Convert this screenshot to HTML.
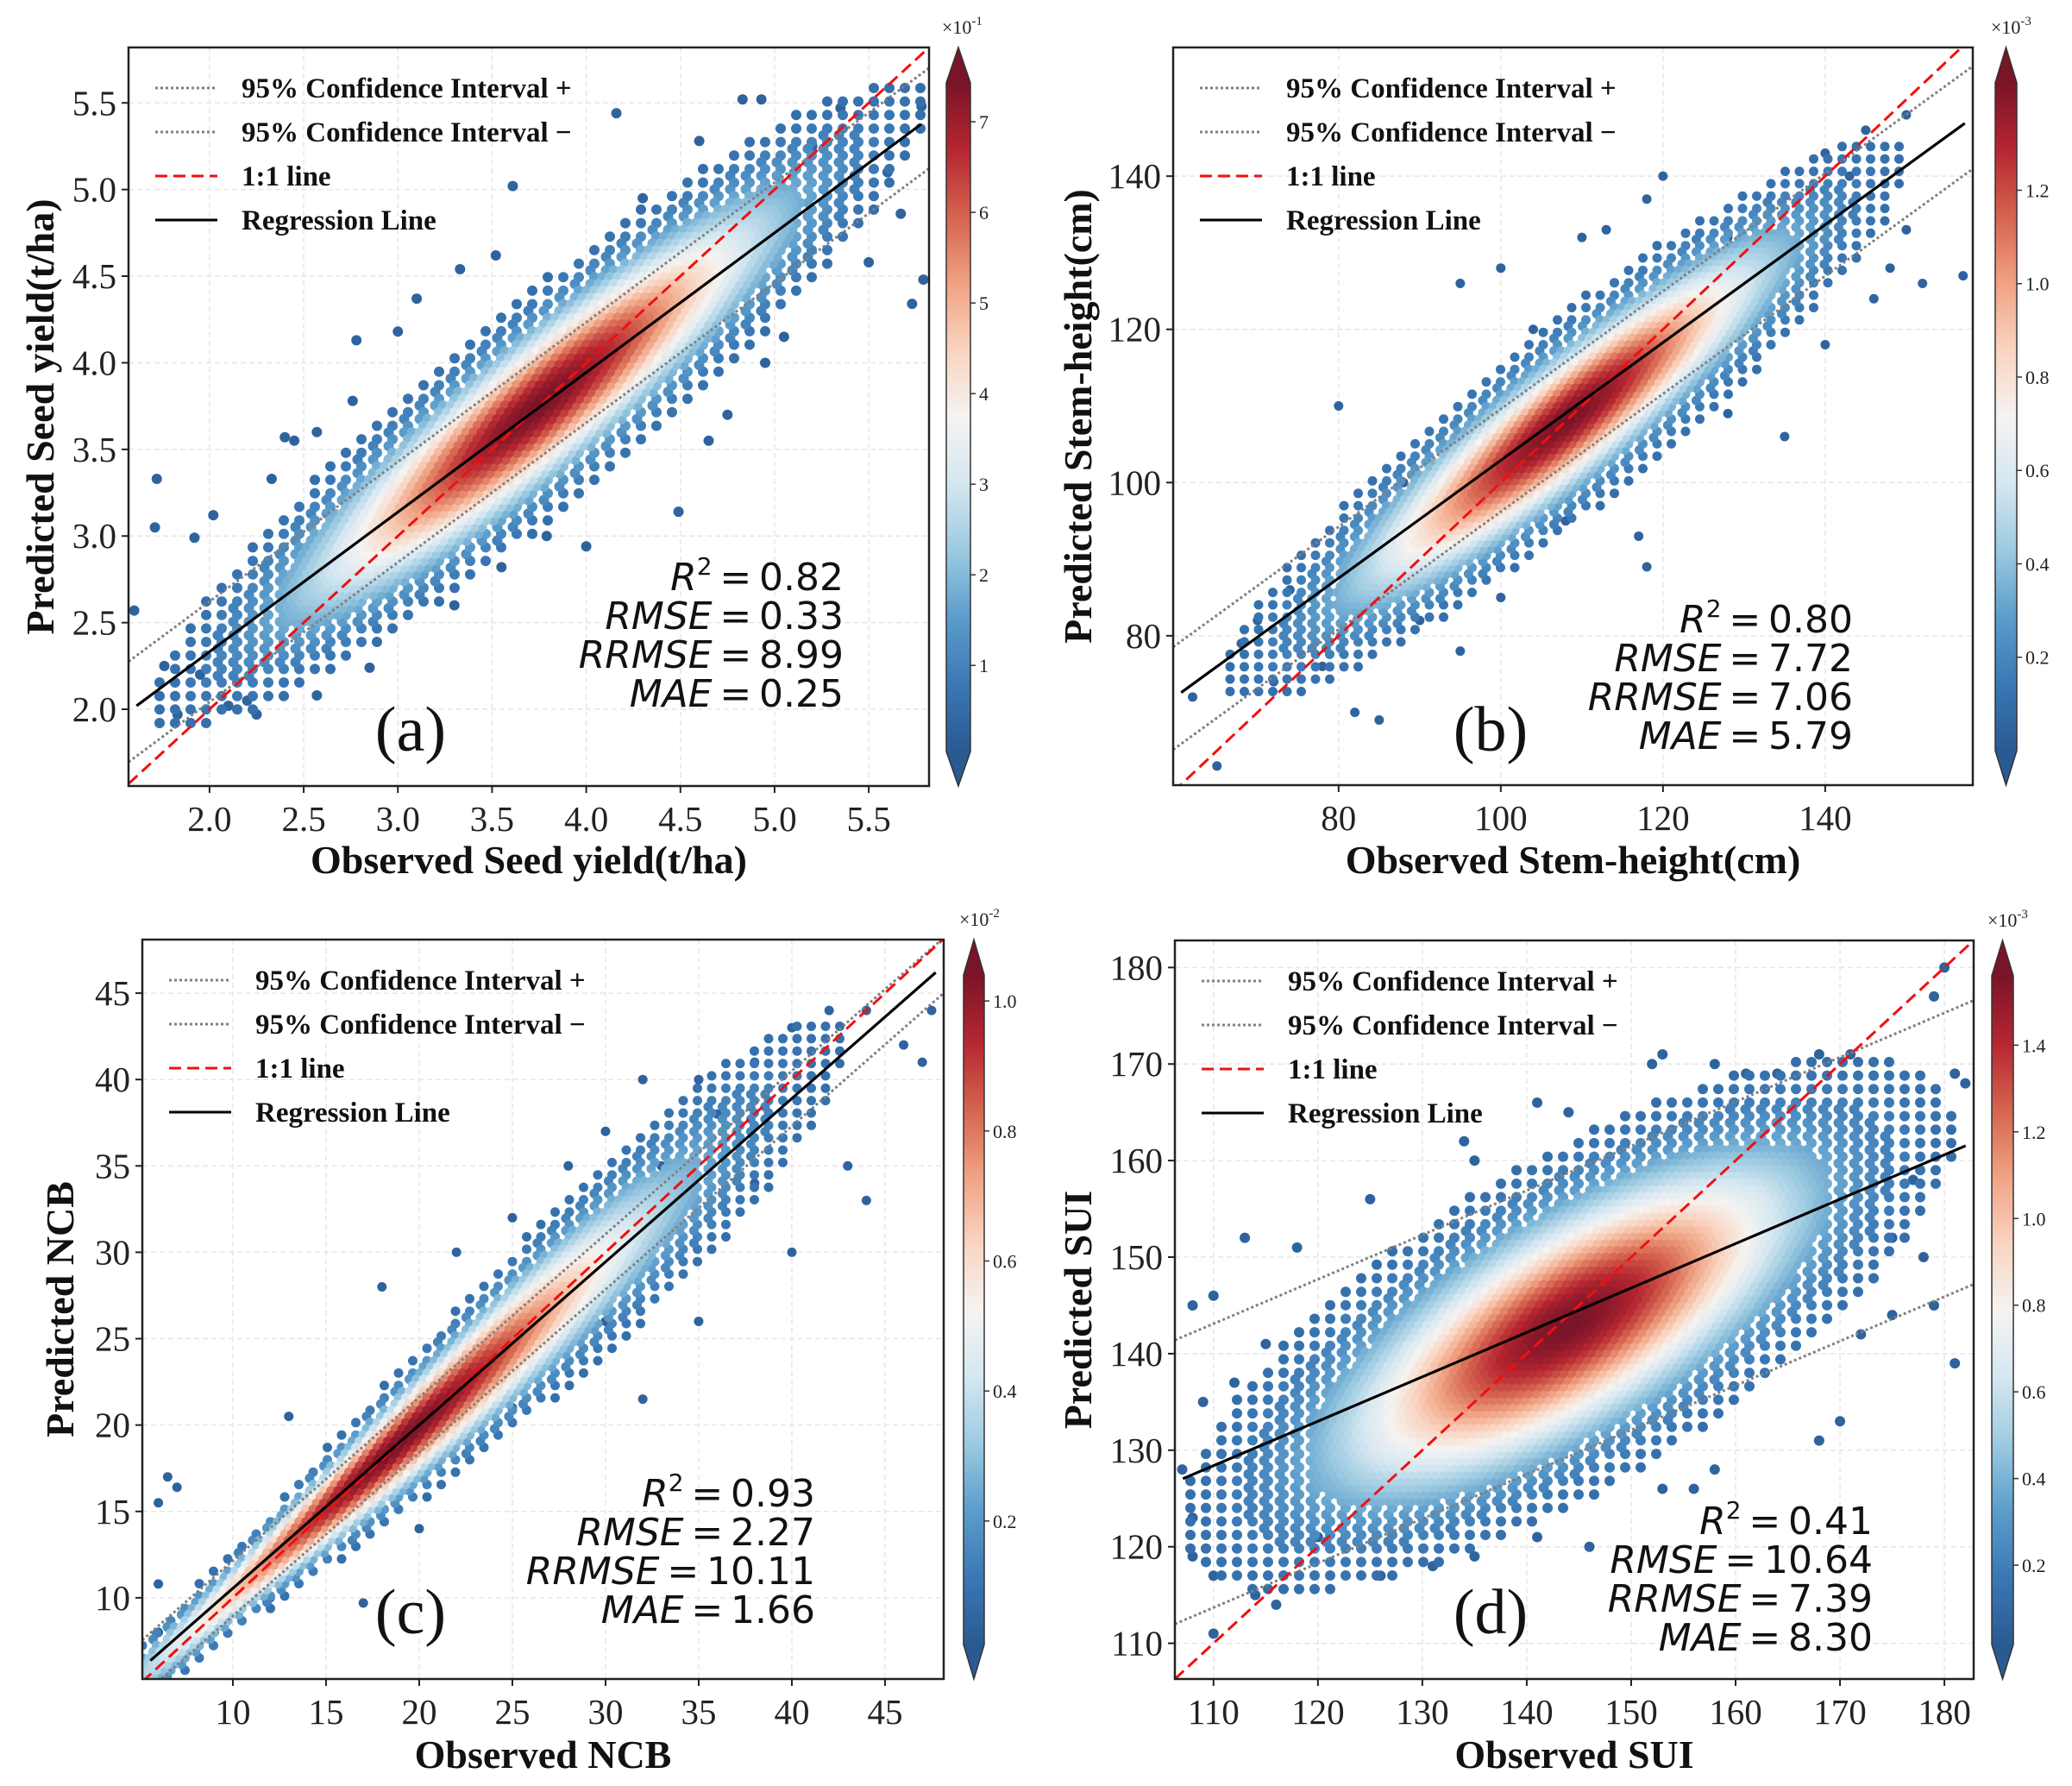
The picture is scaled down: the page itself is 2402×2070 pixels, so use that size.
<!DOCTYPE html>
<html><head><meta charset="utf-8"><style>
html,body{margin:0;padding:0;background:#fff}
svg{display:block}
</style></head><body>
<svg id="fig" width="2402" height="2070" viewBox="0 0 2402 2070" xmlns="http://www.w3.org/2000/svg"></svg>
<script>
// ---------- data ----------
const panelIds = ['a','b','c','d'];
const xLabels = ['Observed Seed yield(t/ha)','Observed Stem-height(cm)','Observed NCB','Observed SUI'];
const yLabels = ['Predicted Seed yield(t/ha)','Predicted Stem-height(cm)','Predicted NCB','Predicted SUI'];
const xTicksA = [2.0,2.5,3.0,3.5,4.0,4.5,5.0,5.5];
const yTicksA = [2.0,2.5,3.0,3.5,4.0,4.5,5.0,5.5];
const xTicksB = [80,100,120,140];
const yTicksB = [80,100,120,140];
const xTicksC = [10,15,20,25,30,35,40,45];
const yTicksC = [10,15,20,25,30,35,40,45];
const xTicksD = [110,120,130,140,150,160,170,180];
const yTicksD = [110,120,130,140,150,160,170,180];
const statR2 = ['0.82','0.80','0.93','0.41'];
const statRMSE = ['0.33','7.72','2.27','10.64'];
const statRRMSE = ['8.99','7.06','10.11','7.39'];
const statMAE = ['0.25','5.79','1.66','8.30'];
// regression [slope, intercept], CI half-width
const regA = [0.806, 0.72], ciA = 0.29;
const regB = [0.769, 26.0], ciB = 6.7;
const regC = [0.945, 1.1], ciC = 1.6;
const regD = [0.46, 77.8], ciD = 14.7;
// density model: [meanX, meanY, axisSlope, sdX, sdResid, sdResidGrowth]
const densA = [3.75, 3.75, 0.84, 0.78, 0.27, 0];
const densB = [108, 108, 0.8, 16, 5.5, 0];
const densC = [19, 19, 0.97, 9, 1.0, 0.07];
const densD = [144, 143, 0.55, 14, 7.2, 0];
// colorbar tick values and exponent
const cbTicksA = [1,2,3,4,5,6,7], cbRangeA = [0.05,7.43], cbExpA = '-1';
const cbTicksB = [0.2,0.4,0.6,0.8,1.0,1.2], cbRangeB = [0.0,1.43], cbExpB = '-3';
const cbTicksC = [0.2,0.4,0.6,0.8,1.0], cbRangeC = [0.01,1.04], cbExpC = '-2';
const cbTicksD = [0.2,0.4,0.6,0.8,1.0,1.2,1.4], cbRangeD = [0.017,1.56], cbExpD = '-3';
// outlier points [x,y]
const outA = [[1.6,2.57],[1.72,3.33],[1.71,3.05],[1.76,2.25],[1.83,1.97],[1.92,2.99],[2.02,3.12],[2.33,3.33],[2.4,3.57],[2.45,3.55],[2.57,3.6],[2.78,4.13],[2.76,3.78],[3.0,4.18],[3.1,4.37],[3.33,4.54],[3.52,4.62],[3.61,5.02],[4.16,5.44],[4.83,5.52],[4.93,5.52],[5.35,5.47],[5.73,4.34],[5.79,4.48],[5.67,4.86],[4.49,3.14],[4.0,2.94],[3.79,3.0],[3.55,2.82],[2.57,2.08],[2.25,1.97],[2.85,2.24],[3.3,2.6],[4.65,3.55],[4.95,4.0],[5.05,4.15],[5.5,4.58],[5.78,5.48],[4.3,4.95],[4.6,5.28],[2.2,2.05],[2.1,2.02],[1.95,2.2],[5.2,5.25],[5.6,5.1],[4.75,3.7]];
const outB = [[62,72],[65,63],[68,79],[70,82],[74,86],[80,110],[82,70],[85,69],[88,100],[95,126],[100,128],[104,120],[110,132],[113,133],[118,137],[120,140],[128,132],[135,128],[140,143],[145,146],[150,148],[157,127],[148,128],[146,124],[140,118],[135,106],[128,109],[118,89],[117,93],[108,95],[100,85],[95,78],[90,82],[72,74],[78,76],[143,140],[150,133],[152,126]];
const outC = [[6,15.5],[6.5,17],[7,16.4],[13,20.5],[18,28],[22,30],[25,32],[28,35],[30,37],[32,40],[35,40],[38,41],[40,43],[42,44],[44,44],[46,42],[47.5,44],[47,41],[44,33],[43,35],[40,30],[35,26],[32,21.5],[30,26],[25,21],[20,14],[17,9.7],[12,10],[9,8],[6,10.8],[6,8],[36,38],[33,35],[38,34]];
const outD = [[108,145],[110,146],[113,152],[118,151],[125,156],[134,162],[135,160],[141,166],[144,165],[152,170],[153,171],[158,170],[161,169],[164,169],[168,171],[171,171],[179,177],[180,180],[181,169],[182,168],[181,139],[179,145],[175,144],[172,142],[170,133],[168,131],[158,128],[156,126],[153,126],[146,120],[141,121],[135,119],[131,118],[126,117],[120,121],[116,114],[114,115],[110,111],[108,119],[110,117],[108,123],[107,128],[109,135],[112,137],[115,141],[177,158],[175,152],[178,150]];

// layout (pixel geometry, not data)
const layouts = [
 {L:149,R:1077,T:55,B:911,xr:[1.57,5.82],yr:[1.557,5.82],cbx:1097,cbw:28,xt:xTicksA,yt:yTicksA,dec:1,reg:regA,ci:ciA,dens:densA,out:outA,cbt:cbTicksA,cbr:cbRangeA,cbe:cbExpA,cbdec:0,sx:978,sy:668,lab:[476,846],ylx:46,xly:996,sr:6},
 {L:1360,R:2287,T:55,B:910,xr:[59.6,158.2],yr:[60.5,156.8],cbx:2313,cbw:25,xt:xTicksB,yt:yTicksB,dec:0,reg:regB,ci:ciB,dens:densB,out:outB,cbt:cbTicksB,cbr:cbRangeB,cbe:cbExpB,cbdec:1,sx:2148,sy:717,lab:[1728,846],ylx:1249,xly:996,sr:5.5},
 {L:165,R:1094,T:1089,B:1946,xr:[5.14,48.15],yr:[5.3,48.1],cbx:1117,cbw:24,xt:xTicksC,yt:yTicksC,dec:0,reg:regC,ci:ciC,dens:densC,out:outC,cbt:cbTicksC,cbr:cbRangeC,cbe:cbExpC,cbdec:1,sx:945,sy:1730,lab:[476,1869],ylx:69,xly:2033,sr:5.5},
 {L:1362,R:2288,T:1090,B:1946,xr:[106.3,182.8],yr:[106.3,182.8],cbx:2309,cbw:25,xt:xTicksD,yt:yTicksD,dec:0,reg:regD,ci:ciD,dens:densD,out:outD,cbt:cbTicksD,cbr:cbRangeD,cbe:cbExpD,cbdec:1,sx:2171,sy:1762,lab:[1728,1869],ylx:1249,xly:2033,sr:6}
];

const NS='http://www.w3.org/2000/svg';
const svg=document.getElementById('fig');
function mk(tag,attrs,parent){const e=document.createElementNS(NS,tag);for(const k in attrs)e.setAttribute(k,attrs[k]);(parent||svg).appendChild(e);return e;}
const stops=['#2a5a92','#3a78b5','#5b9dcb','#9ccae1','#d5e7f1','#f5f3f1','#f9d4c0','#f0a283','#d5634f','#b52631','#7a1427'];
function hex(c){return [parseInt(c.substr(1,2),16),parseInt(c.substr(3,2),16),parseInt(c.substr(5,2),16)];}
function cmap(t){t=Math.max(0,Math.min(1,t));const p=t*(stops.length-1);const i=Math.min(stops.length-2,Math.floor(p));const f=p-i;const a=hex(stops[i]),b=hex(stops[i+1]);return 'rgb('+a.map((v,k)=>Math.round(v+(b[k]-v)*f)).join(',')+')';}
const serif='"Liberation Serif", serif';

const defs=mk('defs',{});
const grad=mk('linearGradient',{id:'cbg',x1:0,y1:1,x2:0,y2:0},defs);
stops.forEach((c,i)=>mk('stop',{offset:(i/(stops.length-1)),'stop-color':c},grad));

layouts.forEach((P,pi)=>{
 const g=mk('g',{});
 
 
 const X=v=>P.L+(v-P.xr[0])/(P.xr[1]-P.xr[0])*(P.R-P.L);
 const Y=v=>P.B-(v-P.yr[0])/(P.yr[1]-P.yr[0])*(P.B-P.T);
 const cid='clip'+pi;
 const cp=mk('clipPath',{id:cid},defs);mk('rect',{x:P.L,y:P.T,width:P.R-P.L,height:P.B-P.T},cp);
 P.xt.forEach(v=>{const l=mk('line',{x1:X(v),x2:X(v),y1:P.T,y2:P.B,stroke:'#e6e6e6','stroke-width':1.5,'stroke-dasharray':'6,4'},g);});
 P.yt.forEach(v=>{const l=mk('line',{y1:Y(v),y2:Y(v),x1:P.L,x2:P.R,stroke:'#e6e6e6','stroke-width':1.5,'stroke-dasharray':'6,4'},g);});
 const sg=mk('g',{'clip-path':'url(#'+cid+')'},g);
 
 
 const [mx,my,ds,sdx,sdr,grow]=P.dens;const [b,a]=P.reg;
 P.out.forEach(p=>{const c=mk('circle',{cx:X(p[0]),cy:Y(p[1]),r:P.sr,fill:cmap(0.03)},sg);});
 const pts=[];
 const step=P.sr*1.5;
 let row=0;
 for(let py=P.T;py<=P.B;py+=step*0.87,row++){
  let col=0;
  for(let px=P.L+(row%2?step/2:0);px<=P.R;px+=step,col++){
   const dx=P.xr[0]+(px-P.L)/(P.R-P.L)*(P.xr[1]-P.xr[0]);
   const dy=P.yr[0]+(P.B-py)/(P.B-P.T)*(P.yr[1]-P.yr[0]);
   const sr=sdr*(1+grow*Math.max(0,dx-10));
   const zx=(dx-mx)/sdx, zr=(dy-(my+ds*(dx-mx)))/sr;
   const z2=zx*zx+zr*zr;
   if(z2>7||Math.abs(zr)>2.7) continue;
   if(z2>3.2 && ((row+col)%2===1)) continue;
   if(z2>5 && (row%2===1)) continue;
   pts.push([px,py,Math.exp(-z2/2)]);
  }
 }
 pts.sort((p,q)=>p[2]-q[2]);
 pts.forEach(p=>{const c=mk('circle',{cx:p[0].toFixed(1),cy:p[1].toFixed(1),r:P.sr,fill:cmap(0.04+p[2]*0.96)},sg);});
 const x0=P.xr[0],x1=P.xr[1];
 const lg=mk('g',{'clip-path':'url(#'+cid+')'},g);
 const ciu=mk('line',{x1:X(x0),y1:Y(a+b*x0+P.ci),x2:X(x1),y2:Y(a+b*x1+P.ci),stroke:'#808080','stroke-width':3,'stroke-dasharray':'3,3'},lg);
 
 const cil=mk('line',{x1:X(x0),y1:Y(a+b*x0-P.ci),x2:X(x1),y2:Y(a+b*x1-P.ci),stroke:'#808080','stroke-width':3,'stroke-dasharray':'3,3'},lg);
 
 const one=mk('line',{x1:X(x0),y1:Y(x0),x2:X(x1),y2:Y(x1),stroke:'#f01010','stroke-width':3,'stroke-dasharray':'14,7'},lg);
 
 const rx0=P.xr[0]+0.01*(x1-x0), rx1=P.xr[1]-0.01*(x1-x0);
 const rl=mk('line',{x1:X(rx0),y1:Y(a+b*rx0),x2:X(rx1),y2:Y(a+b*rx1),stroke:'#000','stroke-width':3.2},lg);
 
 const fr=mk('rect',{x:P.L,y:P.T,width:P.R-P.L,height:P.B-P.T,fill:'none',stroke:'#222','stroke-width':2.5},g);
 
 P.xt.forEach(v=>{mk('line',{x1:X(v),x2:X(v),y1:P.B,y2:P.B+8,stroke:'#222','stroke-width':2},g);
  const t=mk('text',{x:X(v),y:P.B+52,'text-anchor':'middle','font-family':serif,'font-size':41,fill:'#222'},g);t.textContent=v.toFixed(P.dec);});
 P.yt.forEach(v=>{mk('line',{x1:P.L-8,x2:P.L,y1:Y(v),y2:Y(v),stroke:'#222','stroke-width':2},g);
  const t=mk('text',{x:P.L-14,y:Y(v)+14,'text-anchor':'end','font-family':serif,'font-size':41,fill:'#222'},g);t.textContent=v.toFixed(P.dec);});
 const xl=mk('text',{x:(P.L+P.R)/2,y:P.xly+16,'text-anchor':'middle','font-family':serif,'font-size':46,'font-weight':'bold',fill:'#111'},g);xl.textContent=xLabels[pi];
 
 const ycy=(P.T+P.B)/2;
 const yl=mk('text',{x:P.ylx,y:ycy,'text-anchor':'middle','font-family':serif,'font-size':46,'font-weight':'bold',fill:'#111',transform:'rotate(-90 '+P.ylx+' '+ycy+') translate(0 16)'},g);yl.textContent=yLabels[pi];
 
 const lgd=mk('g',{},g);
 const items=[['95% Confidence Interval +','#808080','3,3'],['95% Confidence Interval \u2212','#808080','3,3'],['1:1 line','#f01010','14,7'],['Regression Line','#000','']];
 items.forEach((it,i)=>{const yy=P.T+47+i*51;
  const e=mk('g',{},lgd);
  const at={x1:P.L+31,x2:P.L+103,y1:yy,y2:yy,stroke:it[1],'stroke-width':3};if(it[2])at['stroke-dasharray']=it[2];mk('line',at,e);
  const t=mk('text',{x:P.L+131,y:yy+11,'font-family':serif,'font-size':33,'font-weight':'bold',fill:'#111'},e);t.textContent=it[0];});
 const sgp=mk('g',{'font-family':'"DejaVu Sans", sans-serif','font-size':44,fill:'#111','text-anchor':'end'},g);
 
 const rows=[['R',statR2[pi],true],['RMSE',statRMSE[pi]],['RRMSE',statRRMSE[pi]],['MAE',statMAE[pi]]];
 rows.forEach((r,i)=>{const t=mk('text',{x:P.sx,y:P.sy+16+i*45},sgp);
  const a1=mk('tspan',{'font-style':'italic'},t);a1.textContent=r[0];
  if(r[2]){const s=mk('tspan',{dy:-18,'font-size':28},t);s.textContent='2';const s2=mk('tspan',{dy:18},t);s2.textContent='\u2009=\u2009'+r[1];}
  else{const s2=mk('tspan',{},t);s2.textContent='\u2009=\u2009'+r[1];}
 });
 const pl=mk('text',{x:P.lab[0],y:P.lab[1]+24,'text-anchor':'middle','font-family':serif,'font-size':74,fill:'#111'},g);pl.textContent='('+panelIds[pi]+')';
 
 const cb=mk('g',{},g);
 const ct=P.T+41, cbm=P.B-40, cx=P.cbx, cw=P.cbw;
 mk('rect',{x:cx,y:ct,width:cw,height:cbm-ct,fill:'url(#cbg)'},cb);
 mk('polygon',{points:`${cx},${ct} ${cx+cw},${ct} ${cx+cw/2},${P.T}`,fill:stops[stops.length-1]},cb);
 mk('polygon',{points:`${cx},${cbm} ${cx+cw},${cbm} ${cx+cw/2},${P.B}`,fill:stops[0]},cb);
 mk('polygon',{points:`${cx},${ct} ${cx+cw/2},${P.T} ${cx+cw},${ct} ${cx+cw},${cbm} ${cx+cw/2},${P.B} ${cx},${cbm}`,fill:'none',stroke:'#333','stroke-width':1.5},cb);
 const CY=v=>cbm-(v-P.cbr[0])/(P.cbr[1]-P.cbr[0])*(cbm-ct);
 P.cbt.forEach(v=>{mk('line',{x1:cx+cw,x2:cx+cw+6,y1:CY(v),y2:CY(v),stroke:'#333','stroke-width':1.5},cb);
  const t=mk('text',{x:cx+cw+10,y:CY(v)+8,'font-family':serif,'font-size':22,fill:'#222'},cb);t.textContent=v.toFixed(P.cbdec);});
 const ex=mk('text',{x:cx-5,y:P.T-16,'font-family':serif,'font-size':22,fill:'#222'},cb);
 ex.textContent='\u00d710';const es=mk('tspan',{dy:-10,'font-size':15},ex);es.textContent=P.cbe;
});
</script>
</body></html>
